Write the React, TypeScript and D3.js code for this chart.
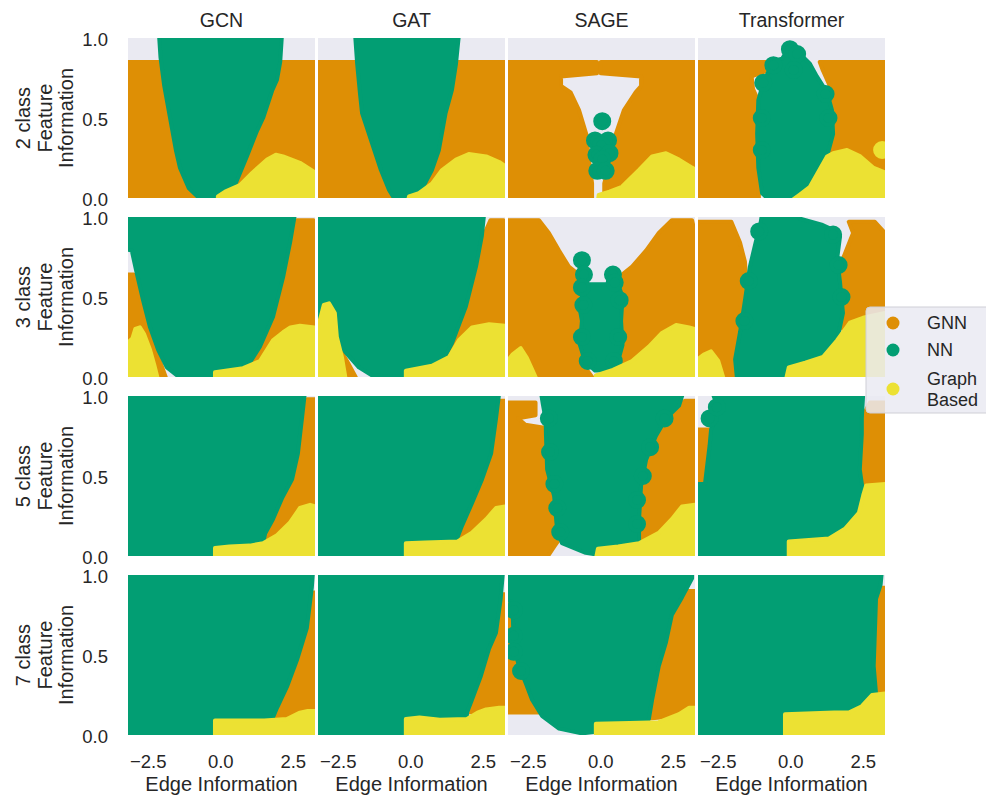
import * as d3 from "d3";

type Pt = [number, number];

const models = ["GCN", "GAT", "SAGE", "Transformer"];
const classLabels = ["2 class", "3 class", "5 class", "7 class"];
const methods = ["GNN", "NN", "Graph Based"];
const colors = ["#DE8F05", "#029E73", "#ECE133"];
const xTicks = [-2.5, 0, 2.5];
const yTicks = [0, 0.5, 1];

// region outlines, per model: [GCN, GAT, SAGE, Transformer]
const gnn2: Pt[][][] = [
  [[[-3.2, 0], [-3.2, 0.85], [3.25, 0.85], [3.25, 0]]],
  [[[-3.2, 0], [-3.2, 0.85], [3.25, 0.85], [3.25, 0]]],
  [
    [[-3.2, 0], [-3.2, 0.85], [-0.13, 0.85], [-0.13, 0.78], [-1.37, 0.76], [-1.37, 0.7], [-1.04, 0.66], [-0.75, 0.55], [-0.5, 0.4], [-0.41, 0.24], [-0.3, 0.09], [-0.3, 0]],
    [[0.0, 0.85], [3.25, 0.85], [3.25, 0], [0.12, 0], [0.12, 0.09], [0.33, 0.24], [0.52, 0.4], [0.8, 0.55], [1.2, 0.66], [1.39, 0.7], [1.39, 0.76], [0.0, 0.78]],
  ],
  [
    [[-3.2, 0], [-3.2, 0.85], [-0.83, 0.85], [-0.9, 0.79], [-1.35, 0.76], [-1.3, 0.68], [-1.1, 0.6], [-1.1, 0]],
    [[1.0, 0.85], [3.25, 0.85], [3.25, 0], [1.0, 0], [1.3, 0.6], [1.46, 0.64], [1.3, 0.72], [1.1, 0.8]],
  ],
];
const nn2: Pt[][][] = [
  [[[-2.13, 1.02], [-2.08, 0.88], [-1.95, 0.7], [-1.75, 0.5], [-1.55, 0.3], [-1.41, 0.19], [-1.1, 0.06], [-0.75, 0.0], [-0.2, 0.0], [0.42, 0.05], [0.9, 0.26], [1.25, 0.42], [1.46, 0.5], [1.77, 0.67], [1.94, 0.74], [2.05, 0.85], [2.11, 1.02]]],
  [[[-1.92, 1.02], [-1.85, 0.84], [-1.75, 0.65], [-1.68, 0.53], [-1.37, 0.36], [-1.03, 0.175], [-0.75, 0.05], [-0.58, 0.0], [-0.16, 0.0], [0.4, 0.06], [0.73, 0.175], [0.97, 0.3], [1.2, 0.53], [1.42, 0.675], [1.56, 0.84], [1.66, 1.02]]],
  [],
  [[[-0.82, 0], [-0.99, 0.03], [-1.12, 0.19], [-1.16, 0.4], [-1.12, 0.61], [-0.95, 0.72], [-0.75, 0.8], [-0.55, 0.86], [-0.3, 0.87], [-0.1, 0.93], [0.15, 0.92], [0.32, 0.9], [0.66, 0.84], [0.9, 0.76], [1.25, 0.66], [1.42, 0.55], [1.46, 0.4], [1.25, 0.26], [0.66, 0.07], [0.2, 0.0]]],
];
const graph2: Pt[][][] = [
  [[[-0.1, -0.02], [-0.1, 0.01], [0.15, 0.04], [0.66, 0.08], [1.1, 0.16], [1.6, 0.24], [1.9, 0.27], [2.15, 0.26], [2.73, 0.22], [3.25, 0.16], [3.25, -0.02]]],
  [[[-0.1, -0.02], [-0.06, 0.01], [0.28, 0.03], [0.73, 0.09], [1.08, 0.175], [1.56, 0.24], [2.0, 0.275], [2.6, 0.26], [3.05, 0.225], [3.25, 0.2], [3.25, -0.02]]],
  [[[-0.1, -0.02], [-0.07, 0.02], [0.3, 0.04], [0.73, 0.07], [1.32, 0.175], [1.77, 0.26], [2.25, 0.28], [2.7, 0.24], [3.15, 0.19], [3.25, 0.18], [3.25, -0.02]]],
  [[[0.0, -0.02], [0.3, 0.02], [0.66, 0.07], [1.25, 0.26], [1.46, 0.28], [1.94, 0.3], [2.4, 0.26], [2.84, 0.19], [3.25, 0.16], [3.25, -0.02]]],
];
const nnDots2: Pt[][] = [
  [],
  [],
  [[0.05, 0.48], [-0.2, 0.36], [0.25, 0.36], [0.02, 0.33], [-0.15, 0.27], [0.3, 0.28], [0.05, 0.24], [-0.12, 0.17], [0.17, 0.17]],
  [[-0.03, 0.93], [0.22, 0.9], [-0.6, 0.83], [-0.95, 0.72], [0.1, 0.8], [-1.0, 0.5], [-1.0, 0.3], [1.3, 0.5], [1.2, 0.65]],
];
const graphDots2: Pt[][] = [[], [], [], [[3.15, 0.3]]];

const gnn3: Pt[][][] = [
  [
    [[-3.2, 0], [-3.2, 0.64], [-3.0, 0.64], [-2.8, 0.5], [-2.2, 0.15], [-1.9, 0]],
    [[0.8, 0], [1.8, 0.37], [2.3, 0.7], [2.5, 0.88], [2.62, 0.98], [3.2, 0.98], [3.25, 0.9], [3.25, 0]],
  ],
  [
    [[-3.2, 0], [-3.2, 0.36], [-3.05, 0.36], [-2.7, 0.25], [-2.2, 0.1], [-1.9, 0]],
    [[0.9, 0], [1.9, 0.44], [2.3, 0.72], [2.55, 0.9], [2.75, 0.98], [3.2, 0.98], [3.25, 0.9], [3.25, 0]],
  ],
  [
    [[-3.2, 0], [-3.2, 0.98], [-2.13, 0.98], [-1.79, 0.9], [-1.44, 0.79], [-1.1, 0.69], [-0.65, 0.625], [-0.52, 0.56], [-0.6, 0.3], [-0.5, 0.05], [-0.3, 0]],
    [[0.52, 0.54], [0.63, 0.625], [1.08, 0.69], [1.56, 0.79], [2.0, 0.9], [2.45, 0.98], [3.15, 0.98], [3.25, 0.9], [3.25, 0], [0.6, 0], [0.6, 0.3]],
  ],
  [
    [[-3.2, 0], [-3.2, 0.97], [-2.05, 0.97], [-1.75, 0.84], [-1.58, 0.72], [-1.5, 0.48], [-1.6, 0.3], [-1.9, 0.1], [-1.99, 0]],
    [[2.0, 0.97], [2.9, 0.97], [3.25, 0.9], [3.25, 0.3], [1.8, 0.3], [1.7, 0.55], [1.8, 0.74], [2.15, 0.9]],
  ],
];
const nn3: Pt[][][] = [
  [[[-3.3, 1.02], [-3.3, 0.8], [-3.07, 0.79], [-2.9, 0.65], [-2.68, 0.48], [-2.44, 0.31], [-2.16, 0.17], [-1.86, 0.06], [-1.51, 0.01], [-0.48, 0], [0.3, 0.0], [0.9, 0.06], [1.35, 0.19], [1.8, 0.375], [2.15, 0.625], [2.39, 0.84], [2.56, 1.02]]],
  [[[-3.3, 1.02], [-3.3, 0.36], [-3.0, 0.33], [-2.72, 0.275], [-2.23, 0.15], [-1.79, 0.06], [-1.34, 0.01], [-0.4, 0], [0.5, 0.02], [1.08, 0.09], [1.42, 0.21], [1.9, 0.44], [2.25, 0.69], [2.45, 0.88], [2.53, 1.02]]],
  [[[-0.5, 0.58], [0.6, 0.58], [0.75, 0.5], [0.7, 0.35], [0.75, 0.2], [0.6, 0.1], [0.3, 0.04], [-0.2, 0.04], [-0.55, 0.1], [-0.72, 0.2], [-0.65, 0.35], [-0.75, 0.45]]],
  [[[-0.99, 1.02], [0.18, 1.02], [0.32, 0.99], [1.1, 0.95], [1.46, 0.92], [1.7, 0.88], [1.6, 0.74], [1.7, 0.59], [1.8, 0.4], [1.6, 0.23], [0.9, 0.11], [-0.07, 0.0], [-0.17, -0.02], [-1.85, -0.02], [-1.92, 0.11], [-1.75, 0.28], [-1.58, 0.48], [-1.41, 0.69], [-1.2, 0.85], [-1.09, 0.91]]],
];
const graph3: Pt[][][] = [
  [
    [[-3.3, -0.02], [-3.3, 0.2], [-3.05, 0.24], [-2.95, 0.3], [-2.79, 0.31], [-2.65, 0.27], [-2.44, 0.17], [-2.3, 0.08], [-2.16, -0.02]],
    [[-0.2, -0.02], [-0.2, 0.03], [0.77, 0.055], [1.35, 0.1], [1.8, 0.23], [2.15, 0.28], [2.4, 0.31], [2.73, 0.32], [3.25, 0.31], [3.25, -0.02]],
  ],
  [
    [[-3.3, -0.02], [-3.3, 0.25], [-3.1, 0.38], [-3.0, 0.45], [-2.82, 0.46], [-2.62, 0.4], [-2.55, 0.25], [-2.37, 0.12], [-2.24, -0.02]],
    [[-0.17, -0.02], [-0.17, 0.04], [0.73, 0.07], [1.32, 0.125], [1.66, 0.23], [2.11, 0.31], [2.7, 0.33], [3.25, 0.32], [3.25, -0.02]],
  ],
  [
    [[-3.3, -0.02], [-3.3, 0.08], [-3.05, 0.14], [-2.76, 0.18], [-2.55, 0.12], [-2.35, 0.04], [-2.2, -0.02]],
    [[-0.17, -0.02], [-0.17, 0.01], [0.42, 0.045], [1.08, 0.1], [1.66, 0.19], [2.11, 0.275], [2.6, 0.325], [3.05, 0.31], [3.25, 0.3], [3.25, -0.02]],
  ],
  [
    [[-3.3, -0.02], [-3.3, 0.1], [-3.0, 0.14], [-2.75, 0.16], [-2.5, 0.1], [-2.3, -0.02]],
    [[-0.17, -0.02], [-0.07, 0.06], [0.5, 0.09], [1.11, 0.125], [1.6, 0.23], [2.04, 0.34], [2.49, 0.37], [3.25, 0.4], [3.25, -0.02]],
  ],
];
const nnDots3: Pt[][] = [
  [],
  [],
  [[-0.65, 0.73], [-0.58, 0.64], [-0.65, 0.56], [0.42, 0.64], [0.48, 0.59], [-0.6, 0.45], [0.65, 0.48], [-0.65, 0.25], [0.6, 0.25], [-0.45, 0.1], [0.45, 0.1]],
  [[-1.09, 0.91], [1.46, 0.89], [-1.45, 0.6], [-1.6, 0.35], [1.75, 0.5], [1.65, 0.7]],
];
const graphDots3: Pt[][] = [[], [], [], []];

const gnn5: Pt[][][] = [
  [[[1.2, 0], [1.46, 0.08], [1.8, 0.23], [2.11, 0.36], [2.46, 0.48], [2.66, 0.64], [2.8, 0.86], [2.97, 0.98], [3.25, 0.98], [3.25, 0]]],
  [[[1.4, 0], [1.6, 0.11], [1.77, 0.19], [2.11, 0.33], [2.46, 0.48], [2.77, 0.64], [2.94, 0.86], [3.1, 0.97], [3.25, 0.97], [3.25, 0]]],
  [
    [[-3.2, 0.12], [-3.2, 0.96], [-2.25, 0.96], [-2.25, 0.88], [-2.85, 0.86], [-2.6, 0.82], [-1.9, 0.8], [-1.85, 0.5], [-1.5, 0.2], [-1.37, 0.12], [-1.6, 0.06], [-1.82, 0.0], [-3.2, 0.0]],
    [[1.0, 0], [1.3, 0.3], [1.5, 0.6], [2.0, 0.8], [2.5, 0.9], [2.9, 0.97], [3.25, 0.97], [3.25, 0]],
  ],
  [
    [[-3.2, 0.45], [-3.2, 0.79], [-2.75, 0.79], [-2.7, 0.6], [-2.9, 0.45]],
    [[2.45, 0.86], [2.73, 0.96], [3.25, 0.96], [3.25, 0.4], [2.5, 0.38], [2.38, 0.54], [2.45, 0.76]],
  ],
];
const nn5: Pt[][][] = [
  [[[-3.3, -0.02], [-3.3, 1.02], [2.9, 1.02], [2.8, 0.86], [2.66, 0.64], [2.46, 0.48], [2.11, 0.36], [1.8, 0.23], [1.53, 0.14], [1.46, 0.08], [1.4, -0.02]]],
  [[[-3.3, -0.02], [-3.3, 1.02], [3.05, 1.02], [2.94, 0.86], [2.77, 0.64], [2.46, 0.48], [2.11, 0.33], [1.77, 0.19], [1.6, 0.11], [1.55, -0.02]]],
  [[[-2.06, 1.02], [2.84, 1.02], [2.7, 0.94], [2.25, 0.86], [1.9, 0.75], [1.56, 0.6], [1.39, 0.44], [1.32, 0.23], [1.32, 0.08], [-0.17, 0.01], [-0.52, 0.02], [-1.34, 0.08], [-1.51, 0.17], [-1.61, 0.375], [-1.85, 0.54], [-1.89, 0.75], [-1.9, 0.85], [-2.0, 0.95]]],
  [[[-3.3, -0.02], [-3.3, 0.45], [-2.96, 0.45], [-2.8, 0.69], [-2.75, 0.79], [-2.5, 0.92], [-2.7, 1.02], [2.5, 1.02], [2.45, 0.86], [2.45, 0.76], [2.38, 0.54], [2.5, 0.39], [2.35, 0.27], [1.87, 0.17], [1.32, 0.11], [-0.07, 0.09], [-0.07, -0.02]]],
];
const graph5: Pt[][][] = [
  [[[-0.2, -0.02], [-0.2, 0.05], [0.3, 0.06], [1.0, 0.065], [1.46, 0.08], [1.94, 0.13], [2.39, 0.21], [2.73, 0.3], [3.08, 0.32], [3.25, 0.31], [3.25, -0.02]]],
  [[[-0.17, -0.02], [-0.17, 0.08], [0.5, 0.085], [1.6, 0.09], [2.11, 0.145], [2.6, 0.23], [2.94, 0.3], [3.25, 0.31], [3.25, -0.02]]],
  [[[-0.17, -0.02], [-0.1, 0.045], [0.6, 0.06], [1.32, 0.08], [2.0, 0.145], [2.45, 0.23], [2.8, 0.31], [3.25, 0.32], [3.25, -0.02]]],
  [[[-0.07, -0.02], [-0.07, 0.09], [1.32, 0.11], [1.87, 0.17], [2.35, 0.27], [2.5, 0.38], [2.6, 0.44], [3.25, 0.45], [3.25, -0.02]]],
];
const nnDots5: Pt[][] = [
  [],
  [],
  [[-1.79, 0.86], [-1.75, 0.65], [-1.6, 0.45], [-1.5, 0.3], [-1.4, 0.15], [2.2, 0.86], [1.7, 0.68], [1.45, 0.5], [1.25, 0.35], [1.25, 0.2]],
  [[-2.8, 0.86], [-2.55, 0.93]],
];
const graphDots5: Pt[][] = [[], [], [], []];

const gnn7: Pt[][][] = [
  [[[1.8, 0.11], [1.94, 0.17], [2.28, 0.3], [2.63, 0.47], [2.97, 0.67], [3.1, 0.87], [3.2, 0.89], [3.25, 0.89], [3.25, 0.1]]],
  [[[1.94, 0.14], [2.11, 0.22], [2.42, 0.37], [2.7, 0.54], [2.94, 0.64], [3.1, 0.85], [3.15, 0.88], [3.25, 0.88], [3.25, 0.15]]],
  [
    [[-3.2, 0.14], [-3.2, 0.9], [-3.0, 0.9], [-2.8, 0.5], [-2.3, 0.3], [-2.0, 0.14]],
    [[1.5, 0.1], [2.0, 0.43], [2.45, 0.75], [2.9, 0.9], [3.25, 0.9], [3.25, 0.13]],
  ],
  [[[2.9, 0.26], [2.86, 0.43], [2.9, 0.64], [2.94, 0.85], [3.0, 0.92], [3.25, 0.92], [3.25, 0.26]]],
];
const nn7: Pt[][][] = [
  [[[-3.3, -0.02], [-3.3, 1.02], [3.18, 1.02], [3.14, 0.92], [2.97, 0.67], [2.63, 0.47], [2.28, 0.3], [1.94, 0.17], [1.8, 0.11], [1.75, -0.02]]],
  [[[-3.3, -0.02], [-3.3, 1.02], [3.18, 1.02], [3.1, 0.85], [2.94, 0.64], [2.7, 0.54], [2.42, 0.37], [2.11, 0.22], [1.94, 0.14], [1.9, -0.02]]],
  [[[-3.3, 1.02], [3.15, 1.02], [3.15, 0.98], [2.8, 0.86], [2.45, 0.75], [2.25, 0.58], [2.0, 0.43], [1.77, 0.22], [1.66, 0.1], [1.5, 0.07], [-0.17, 0.02], [-0.65, 0.01], [-1.44, 0.04], [-2.03, 0.12], [-2.37, 0.22], [-2.58, 0.32], [-2.82, 0.43], [-3.0, 0.55], [-3.05, 0.83], [-3.3, 0.85]]],
  [[[-3.3, -0.02], [-3.3, 1.02], [3.14, 1.02], [3.1, 0.94], [2.94, 0.85], [2.9, 0.64], [2.86, 0.43], [2.94, 0.26], [2.8, 0.25], [2.45, 0.18], [2.0, 0.14], [-0.2, 0.13], [-0.2, -0.02]]],
];
const graph7: Pt[][][] = [
  [[[-0.2, -0.02], [-0.2, 0.09], [0.5, 0.09], [1.5, 0.09], [2.28, 0.1], [2.73, 0.14], [3.0, 0.15], [3.25, 0.15], [3.25, -0.02]]],
  [[[-0.17, -0.02], [-0.17, 0.1], [0.3, 0.11], [1.0, 0.095], [1.94, 0.1], [2.3, 0.14], [2.6, 0.16], [3.05, 0.17], [3.25, 0.17], [3.25, -0.02]]],
  [[[-0.17, -0.02], [-0.17, 0.07], [1.0, 0.075], [2.0, 0.08], [2.7, 0.13], [3.05, 0.17], [3.25, 0.17], [3.25, -0.02]]],
  [[[-0.2, -0.02], [-0.2, 0.13], [1.5, 0.14], [2.0, 0.14], [2.45, 0.18], [2.8, 0.25], [3.25, 0.26], [3.25, -0.02]]],
];
const nnDots7: Pt[][] = [[], [], [[-3.0, 0.78], [-3.0, 0.62], [-3.0, 0.52], [-2.75, 0.4]], []];
const graphDots7: Pt[][] = [[], [], [], []];

const rows = [
  { gnn: gnn2, nn: nn2, graph: graph2, nnDots: nnDots2, graphDots: graphDots2 },
  { gnn: gnn3, nn: nn3, graph: graph3, nnDots: nnDots3, graphDots: graphDots3 },
  { gnn: gnn5, nn: nn5, graph: graph5, nnDots: nnDots5, graphDots: graphDots5 },
  { gnn: gnn7, nn: nn7, graph: graph7, nnDots: nnDots7, graphDots: graphDots7 },
];

const W = 986;
const H = 796;
const left0 = 128;
const top0 = 38;
const pw = 187;
const ph = 160;
const colStep = 190;
const rowStep = 179;
const bg = "#EAEAF2";
const ink = "#262626";
const font = "'Liberation Sans', Arial, sans-serif";

const fmt = (v: number) => (v < 0 ? "\u2212" : "") + Math.abs(v).toFixed(1);

export default function App() {
  const x = d3.scaleLinear().domain([-3.2, 3.25]).range([0, pw]);
  const y = d3.scaleLinear().domain([0, 1]).range([ph, 0]);
  const line = d3
    .line<Pt>()
    .x((d) => x(d[0]))
    .y((d) => y(d[1]))
    .curve(d3.curveLinearClosed);

  return (
    <svg width={W} height={H} style={{ position: "absolute", left: 0, top: 0 }} fontFamily={font}>
      <rect width={W} height={H} fill="#fff" />
      {models.map((m, c) => (
        <text key={m} x={left0 + c * colStep + pw / 2} y={27} textAnchor="middle" fontSize={19.5} fill={ink}>
          {m}
        </text>
      ))}
      {rows.map((row, r) => {
        const ty = top0 + r * rowStep;
        return (
          <g key={r}>
            <g transform={`translate(0,${ty + ph / 2})`} fontSize={20} fill={ink} textAnchor="middle">
              {[classLabels[r], "Feature", "Information"].map((t, i) => (
                <text key={t} transform={`translate(${23 + i * 21.5},0) rotate(-90)`} dominantBaseline="central">
                  {t}
                </text>
              ))}
            </g>
            {yTicks.map((v) => (
              <text key={v} x={108} y={ty + y(v) + 1} textAnchor="end" dominantBaseline="central" fontSize={18.5} fill={ink}>
                {fmt(v)}
              </text>
            ))}
            {models.map((m, c) => {
              const tx = left0 + c * colStep;
              const id = `clip-${r}-${c}`;
              const layers = [
                { polys: row.gnn[c], dots: [] as Pt[], color: colors[0] },
                { polys: row.nn[c], dots: row.nnDots[c], color: colors[1] },
                { polys: row.graph[c], dots: row.graphDots[c], color: colors[2] },
              ];
              return (
                <g key={m} transform={`translate(${tx},${ty})`}>
                  <clipPath id={id}>
                    <rect width={pw} height={ph} />
                  </clipPath>
                  <rect width={pw} height={ph} fill={bg} />
                  <g clipPath={`url(#${id})`}>
                    {layers.map((l, li) => (
                      <g key={li} fill={l.color} stroke={l.color} strokeWidth={4} strokeLinejoin="round">
                        {l.polys.map((p, pi) => (
                          <path key={pi} d={line(p) ?? ""} />
                        ))}
                        {l.dots.map((d, di) => (
                          <circle key={di} cx={x(d[0])} cy={y(d[1])} r={7} />
                        ))}
                      </g>
                    ))}
                  </g>
                  {r === rows.length - 1 && (
                    <g fill={ink}>
                      {xTicks.map((v) => (
                        <text key={v} x={x(v)} y={ph + 33} textAnchor="middle" fontSize={18.5}>
                          {fmt(v)}
                        </text>
                      ))}
                      <text x={pw / 2} y={ph + 56} textAnchor="middle" fontSize={20}>
                        Edge Information
                      </text>
                    </g>
                  )}
                </g>
              );
            })}
          </g>
        );
      })}
      <g transform="translate(866,307)">
        <rect width={140} height={106} rx={4} fill={bg} fillOpacity={0.85} stroke="#cfcfd6" />
        {methods.map((m, i) => {
          const cy = [16, 43, 82][i];
          const lines = m === "Graph Based" ? ["Graph", "Based"] : [m];
          return (
            <g key={m}>
              <circle cx={27} cy={cy} r={6.5} fill={colors[i]} />
              {lines.map((t, j) => (
                <text key={t} x={61} y={cy + (lines.length > 1 ? (j - 0.5) * 21 : 0)} dominantBaseline="central" fontSize={18} fill={ink}>
                  {t}
                </text>
              ))}
            </g>
          );
        })}
      </g>
    </svg>
  );
}
